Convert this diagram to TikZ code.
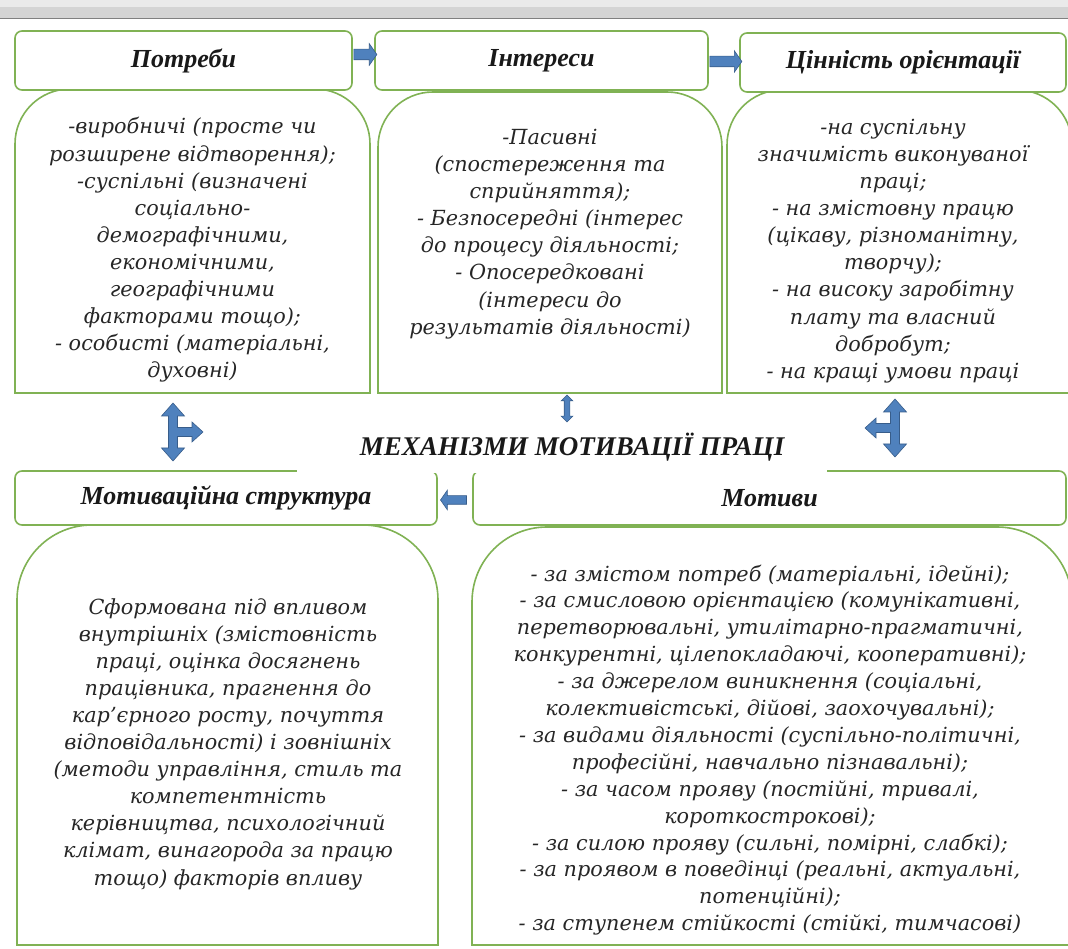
\documentclass[tikz,border=0pt]{standalone}
\usepackage{fontspec}
\setmainfont{DejaVu Serif}
\newfontfamily\headfont{Liberation Serif}
\usetikzlibrary{shapes.arrows,calc}

\definecolor{grn}{RGB}{128,178,84}
\definecolor{arrblue}{RGB}{79,129,189}
\definecolor{arrdark}{RGB}{56,93,138}
\definecolor{bar}{RGB}{212,212,212}

% x1, y1, x2, y2, corner radius
\newcommand{\topframe}[5]{%
	\draw[frame] (#1,#2) -- (#1,#4-#5) to[out=90,in=180] (#1+#5,#4) -- (#3-#5,#4) to[out=0,in=90] (#3,#4-#5) -- (#3,#2) -- cycle;}

\begin{document}
\begin{tikzpicture}[x=1pt,y=1pt,
	frame/.style={draw=grn, line width=1.6pt},
	head/.style={frame, fill=white, rounded corners=7pt, inner sep=0pt, text=black!90,
		font=\headfont\bfseries\itshape\fontsize{26}{30}\selectfont},
	body/.style={inner sep=0pt, align=center, text=black!85,
		font=\itshape\fontsize{20.8}{27.1}\selectfont},
	blk/.style={draw=arrdark, fill=arrblue, line width=0.6pt},
	harrow/.style={blk, single arrow, inner xsep=0pt, inner ysep=5pt, single arrow head extend=5.5pt, single arrow tip angle=110},
	tarr/.pic={\draw[blk] (0,29) -- (11.5,16) -- (4.5,16) -- (4.5,4.5) -- (19,4.5) -- (19,10) -- (30,0) -- (19,-10)
		-- (19,-4.5) -- (4.5,-4.5) -- (4.5,-16) -- (11.5,-16) -- (0,-29) -- (-11.5,-16) -- (-4.5,-16)
		-- (-4.5,16) -- (-11.5,16) -- cycle;}]
	\useasboundingbox (0,0) rectangle (1068,948);

	\fill[bar!50] (0,948) rectangle (1068,941);
	\fill[bar] (0,941) rectangle (1068,930);
	\draw[gray, line width=1.5pt] (0,929.5) -- (1068,929.5);

	\topframe{15}{555}{370}{859}{55}
	\topframe{378}{555}{722}{856}{55}
	\topframe{727}{555}{1072}{858}{55}
	\topframe{17}{3}{438}{423}{75}
	\topframe{472}{3}{1072}{421}{75}

	\node[body] (b1) at (192.5,698) {-виробничі (просте чи\\розширене відтворення);\\-суспільні (визначені\\соціально-\\демографічними,\\економічними,\\географічними\\факторами тощо);\\- особисті (матеріальні,\\духовні)};
	\node[body] (b2) at (550,714) {-Пасивні\\(спостереження та\\сприйняття);\\- Безпосередні (інтерес\\до процесу діяльності;\\- Опосередковані\\(інтереси до\\результатів діяльності)};
	\node[body] (b3) at (893,697) {-на суспільну\\значимість виконуваної\\праці;\\- на змістовну працю\\(цікаву, різноманітну,\\творчу);\\- на високу заробітну\\плату та власний\\добробут;\\- на кращі умови праці};
	\node[body] (b4) at (228,204) {Сформована під впливом\\внутрішніх (змістовність\\праці, оцінка досягнень\\працівника, прагнення до\\кар’єрного росту, почуття\\відповідальності) і зовнішніх\\(методи управління, стиль та\\компетентність\\керівництва, психологічний\\клімат, винагорода за працю\\тощо) факторів впливу};
	\node[body, font=\itshape\fontsize{20.8}{26.9}\selectfont] (b5) at (770,198) {- за змістом потреб (матеріальні, ідейні);\\- за смисловою орієнтацією (комунікативні,\\перетворювальні, утилітарно-прагматичні,\\конкурентні, цілепокладаючі, кооперативні);\\- за джерелом виникнення (соціальні,\\колективістські, дійові, заохочувальні);\\- за видами діяльності (суспільно-політичні,\\професійні, навчально пізнавальні);\\- за часом прояву (постійні, тривалі,\\короткострокові);\\- за силою прояву (сильні, помірні, слабкі);\\- за проявом в поведінці (реальні, актуальні,\\потенційні);\\- за ступенем стійкості (стійкі, тимчасові)};

	\node[head, minimum width=337pt, minimum height=59pt] (h1) at (183.5,887.5) {Потреби};
	\node[head, minimum width=333pt, minimum height=59pt] (h2) at (541.5,887.5) {Інтереси};
	\node[head, minimum width=326pt, minimum height=59pt] (h3) at (903,885.5) {Цінність орієнтації};
	\node[head, minimum width=422pt, minimum height=54pt] (h4) at (226,450) {Мотиваційна структура};
	\node[head, minimum width=593pt, minimum height=54pt] (h5) at (769.5,450) {Мотиви};

	\node[harrow, minimum height=23pt] (a1) at ($(h1.east)!0.5!(h2.west)+(0,6)$) {};
	\node[harrow, minimum height=32pt] (a2) at ($(h2.east)!0.5!(h3.west)$) {};
	\node[harrow, minimum height=26pt, inner ysep=4pt, shape border rotate=180] (a3) at ($(h4.east)!0.5!(h5.west)+(0,-2)$) {};

	\node[blk, double arrow, shape border rotate=90, inner xsep=2.5pt, inner ysep=0pt, minimum height=27pt, double arrow head extend=3pt] (a4) at (567,539.5) {};
	\pic at (173,516) {tarr};
	\pic[xscale=-1] at (895,520) {tarr};

	\fill[white] (297,475) rectangle (827,519);
	\node[font=\headfont\bfseries\itshape\fontsize{27}{30}\selectfont, text=black!90] (title) at (572,501) {МЕХАНІЗМИ МОТИВАЦІЇ ПРАЦІ};
\end{tikzpicture}
\end{document}
